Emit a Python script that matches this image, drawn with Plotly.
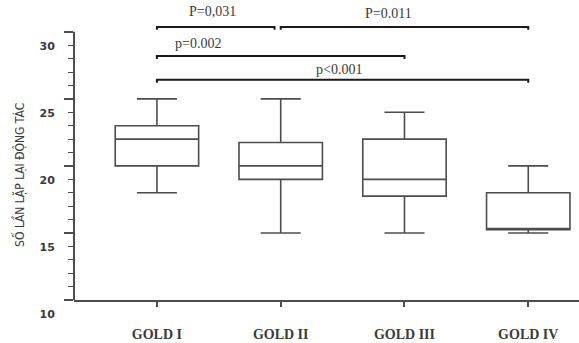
import plotly.graph_objects as go

# ---- data ----
groups = ["GOLD I", "GOLD II", "GOLD III", "GOLD IV"]
lower_whisker = [18.0, 15.0, 15.0, 15.0]
q1_vals = [20.0, 19.0, 17.75, 15.25]
median_vals = [22.0, 20.0, 19.0, 15.25]
q3_vals = [23.0, 21.75, 22.0, 18.0]
upper_whisker = [25.0, 25.0, 24.0, 20.0]

# significance brackets: (start group idx, end group idx, bracket level, label, label x, label y)
bracket_start = [0.0, 1.0, 0.0, 0.0]
bracket_end = [0.95, 3.0, 2.0, 3.0]
bracket_level = [30.37, 30.37, 28.2, 26.42]
bracket_labels = ["P=0,031", "P=0.011", "p=0.002", "p<0.001"]
label_x = [0.45, 1.87, 0.33, 1.47]
label_y = [31.5, 31.35, 29.1, 27.2]

y_ticks = [10, 15, 20, 25, 30]
y_title = "SỐ LẦN LẶP LẠI ĐỘNG TÁC"

line_col = "#4d4d4d"
text_col = "#3a3a3a"

fig = go.Figure()
for i, g in enumerate(groups):
    fig.add_trace(go.Box(
        x=[i], q1=[q1_vals[i]], median=[median_vals[i]], q3=[q3_vals[i]],
        lowerfence=[lower_whisker[i]], upperfence=[upper_whisker[i]],
        width=0.674, whiskerwidth=0.48,
        fillcolor="rgba(0,0,0,0)", line=dict(color=line_col, width=1.6),
        boxpoints=False, name=g, showlegend=False, hoverinfo="skip",
    ))

tick_drop = 0.22
for x0, x1, lv, lab, lx, ly in zip(bracket_start, bracket_end, bracket_level,
                                   bracket_labels, label_x, label_y):
    fig.add_trace(go.Scatter(
        x=[x0, x0, x1, x1], y=[lv - tick_drop, lv, lv, lv - tick_drop],
        mode="lines", line=dict(color="#1a1a1a", width=2),
        showlegend=False, hoverinfo="skip",
    ))
    fig.add_annotation(x=lx, y=ly, xref="x", yref="y", text=lab, showarrow=False,
                       font=dict(family="Liberation Serif", size=14, color=text_col),
                       xanchor="center", yanchor="middle")

# y axis line only up to 30
fig.add_shape(type="line", xref="paper", yref="y", x0=0, x1=0, y0=10, y1=30,
              line=dict(color=line_col, width=2))

fig.add_annotation(xref="paper", yref="paper", x=-0.108, y=0.42, text=y_title,
                   textangle=-90, showarrow=False,
                   font=dict(family="Liberation Sans Narrow, DejaVu Sans Condensed, Liberation Sans",
                             size=12, color=text_col),
                   xanchor="center", yanchor="middle")

fig.update_layout(
    width=579, height=343,
    margin=dict(l=74, r=0, t=1, b=43),
    paper_bgcolor="white", plot_bgcolor="white",
    showlegend=False,
    xaxis=dict(
        range=[-0.67, 3.41], tickmode="array", tickvals=list(range(len(groups))),
        ticktext=groups, showgrid=False, zeroline=False,
        showline=True, linecolor=line_col, linewidth=2,
        ticks="outside", ticklen=5, tickcolor=line_col, tickwidth=1.5,
        ticklabelstandoff=15, automargin=False,
        tickfont=dict(family="Liberation Serif", size=14, color=text_col, weight="bold"),
    ),
    yaxis=dict(
        range=[10, 32.3], tickmode="array", tickvals=y_ticks,
        showgrid=False, zeroline=False, showline=False,
        ticks="outside", ticklen=9, tickcolor=line_col, tickwidth=1.5,
        minor=dict(tickvals=list(range(10, 31)), ticks="outside", ticklen=5,
                   tickcolor=line_col, tickwidth=1.2, showgrid=False),
        ticklabelshift=14, ticklabelstandoff=7, automargin=False,
        tickfont=dict(family="DejaVu Sans", size=11, color=text_col, weight="bold"),
    ),
)

fig.write_html("out.html", config={"displayModeBar": False},
               post_script="document.body.style.margin='0';")
